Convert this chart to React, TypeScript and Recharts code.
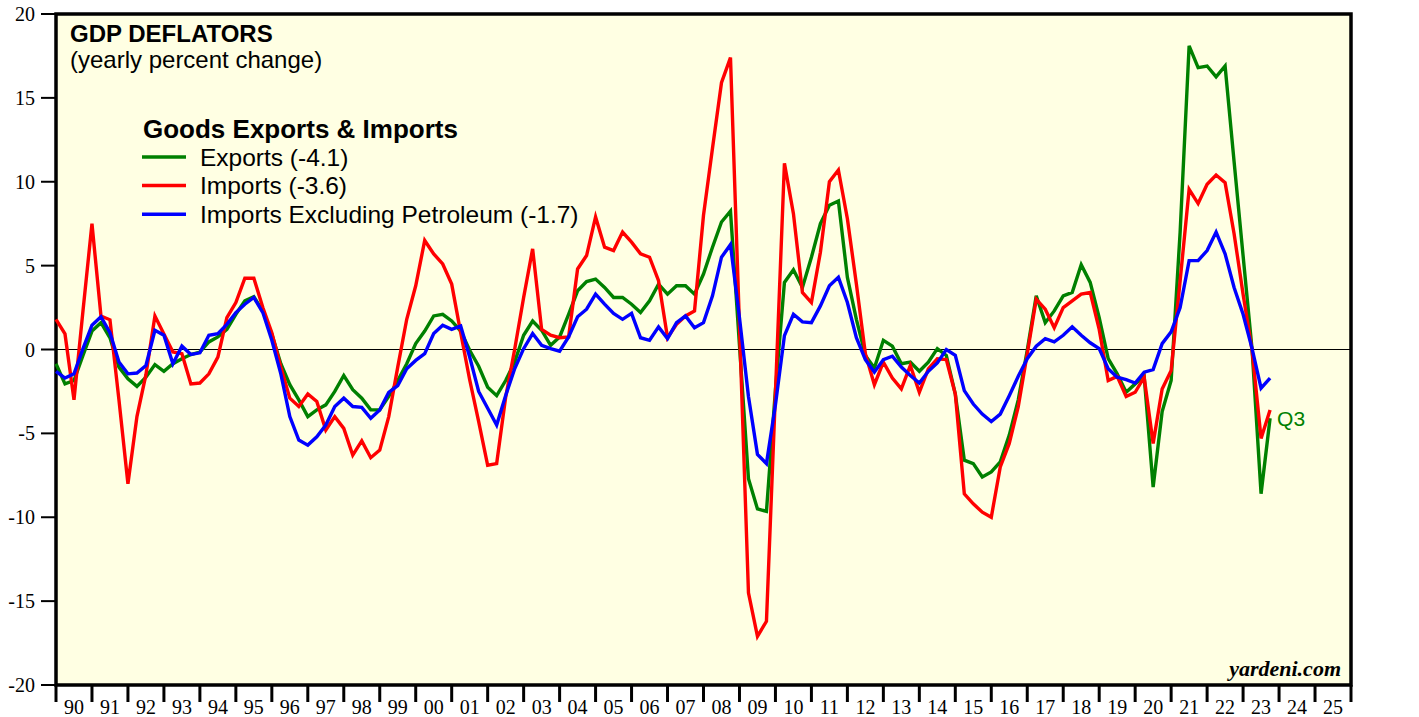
import React from "react";
import {
  CartesianGrid,
  Legend,
  Line,
  LineChart,
  ReferenceArea,
  XAxis,
  YAxis,
} from "recharts";

// quarterly series, first point is 1989 Q4 (plotted at quarter end)
const START_YEAR = 1989;
const START_QUARTER = 4;

const exportsDeflator = [
  -0.85, -2.05, -1.85, -0.35, 1.1, 1.6, 0.7, -1.05,
  -1.75, -2.2, -1.65, -0.9, -1.3, -0.85, -0.55, -0.3,
  -0.15, 0.45, 0.75, 1.2, 2.1, 2.9, 3.15, 2.3,
  0.9, -0.85, -2.1, -3.0, -4.0, -3.6, -3.3, -2.5,
  -1.55, -2.4, -2.9, -3.6, -3.6, -2.8, -1.85, -0.85,
  0.35, 1.1, 2.0, 2.1, 1.7, 1.1, -0.05, -1.0,
  -2.25, -2.75, -1.85, -0.75, 0.85, 1.7, 1.15, 0.25,
  0.75, 2.1, 3.5, 4.05, 4.2, 3.7, 3.1, 3.1,
  2.7, 2.2, 2.9, 3.9, 3.3, 3.8, 3.8, 3.3,
  4.5, 6.1, 7.6, 8.25, 0.25, -7.7, -9.5, -9.65,
  -2.4, 4.0, 4.75, 3.7, 5.5, 7.5, 8.6, 8.85,
  4.3, 1.8, -0.35, -1.1, 0.55, 0.2, -0.85, -0.75,
  -1.3, -0.75, 0.05, -0.35, -2.65, -6.6, -6.8, -7.6,
  -7.3, -6.7, -5.1, -3.0, -0.05, 3.2, 1.6, 2.3,
  3.2, 3.4, 5.05, 4.0, 1.9, -0.55, -1.45, -2.55,
  -2.05, -1.6, -8.2, -3.7, -1.85, 7.0, 18.1, 16.8,
  16.9, 16.25, 16.9, 11.2, 5.6, 0.0, -8.6, -4.1,
];

const importsDeflator = [
  1.8, 0.93, -3.0, 2.3, 7.5, 2.0, 1.77, -3.0,
  -8.0, -4.0, -1.5, 2.0, 0.93, -0.15, -0.25, -2.05,
  -2.0, -1.45, -0.45, 1.9, 2.8, 4.25, 4.25, 2.5,
  1.0, -1.05, -2.9, -3.4, -2.65, -3.1, -4.8, -4.0,
  -4.7, -6.3, -5.45, -6.45, -6.0, -4.0, -1.05, 1.8,
  3.8, 6.5, 5.7, 5.1, 3.9, 1.0, -1.8, -4.3,
  -6.9, -6.8, -2.85, 0.0, 3.1, 6.0, 1.2, 0.85,
  0.7, 0.75, 4.8, 5.6, 7.9, 6.1, 5.9, 7.0,
  6.4, 5.7, 5.5, 4.1, 0.7, 1.5, 2.0, 2.3,
  8.0, 12.0, 15.9, 17.4, 1.4, -14.5, -17.1, -16.2,
  -2.6, 11.1, 8.1, 3.4, 2.8, 5.8, 10.0, 10.7,
  7.8, 3.9, -0.25, -2.1, -0.75, -1.7, -2.35, -0.95,
  -2.55, -1.15, -0.55, -0.6, -2.65, -8.6, -9.2, -9.7,
  -10.0, -7.0, -5.6, -3.4, -0.25, 3.0, 2.4, 1.3,
  2.5, 2.9, 3.3, 3.4, 1.2, -1.85, -1.6, -2.8,
  -2.55, -1.65, -5.6, -2.35, -1.25, 4.1, 9.55, 8.7,
  9.85, 10.4, 9.95, 6.9, 3.3, -0.05, -5.3, -3.6,
];

const importsExPetroleum = [
  -1.3, -1.7, -1.45, 0.05, 1.45, 1.95, 1.0, -0.75,
  -1.45, -1.4, -0.95, 1.15, 0.85, -0.85, 0.2, -0.3,
  -0.2, 0.85, 0.95, 1.5, 2.2, 2.7, 3.1, 2.2,
  0.55, -1.45, -4.0, -5.4, -5.7, -5.2, -4.5, -3.4,
  -2.9, -3.4, -3.45, -4.1, -3.6, -2.55, -2.15, -1.15,
  -0.65, -0.25, 0.95, 1.45, 1.2, 1.4, -0.45, -2.5,
  -3.5, -4.5, -2.75, -1.15, 0.05, 0.95, 0.25, 0.05,
  -0.1, 0.75, 1.95, 2.4, 3.3, 2.7, 2.15, 1.8,
  2.15, 0.7, 0.55, 1.35, 0.65, 1.6, 2.0, 1.3,
  1.6, 3.2, 5.5, 6.25, 1.9, -2.8, -6.25, -6.8,
  -3.3, 0.83, 2.1, 1.65, 1.6, 2.6, 3.8, 4.3,
  2.8, 0.7, -0.6, -1.35, -0.6, -0.4, -1.05, -1.55,
  -2.0, -1.3, -0.8, 0.0, -0.35, -2.45, -3.25, -3.85,
  -4.3, -3.85, -2.75, -1.6, -0.55, 0.2, 0.65, 0.45,
  0.85, 1.35, 0.85, 0.4, 0.05, -1.15, -1.65, -1.8,
  -2.0, -1.35, -1.2, 0.35, 1.05, 2.5, 5.3, 5.3,
  5.9, 7.0, 5.7, 3.7, 2.1, 0.05, -2.3, -1.7,
];

const yearTicks = [
  1990, 1991, 1992, 1993, 1994, 1995, 1996, 1997, 1998, 1999, 2000, 2001,
  2002, 2003, 2004, 2005, 2006, 2007, 2008, 2009, 2010, 2011, 2012, 2013,
  2014, 2015, 2016, 2017, 2018, 2019, 2020, 2021, 2022, 2023, 2024, 2025,
  2026,
];
const yTicks = [-20, -15, -10, -5, 0, 5, 10, 15, 20];

const GREEN = "#008000";
const RED = "#FF0000";
const BLUE = "#0000FF";
const BG = "#FFFFE3";
const SANS = "'Liberation Sans', Arial, sans-serif";
const SERIF = "'Liberation Serif', 'Times New Roman', serif";

const data = exportsDeflator.map((v, i) => {
  const q = START_QUARTER - 1 + i;
  const year = START_YEAR + Math.floor(q / 4);
  const quarter = (q % 4) + 1;
  return {
    date: year + quarter / 4,
    quarter,
    exports: v,
    imports: importsDeflator[i],
    importsExPetroleum: importsExPetroleum[i],
  };
});

// year boundaries get a tick mark, mid-years get the label
const xTicks = yearTicks
  .flatMap((y, i) => (i < yearTicks.length - 1 ? [y, y + 0.5] : [y]));

const last = (arr: number[]) => arr[arr.length - 1];

const YearTick = (props: any) => {
  const { x, y, payload } = props;
  const v = payload.value;
  if (Number.isInteger(v)) {
    return <line x1={x} y1={y} x2={x} y2={y + 17} stroke="#000" strokeWidth={3} />;
  }
  return (
    <text x={x} y={y + 29} textAnchor="middle" fontFamily={SERIF} fontSize={20} fill="#000">
      {String(Math.floor(v) % 100).padStart(2, "0")}
    </text>
  );
};

const renderQuarterLabel = (props: any) => {
  const { x, y, index } = props;
  if (index !== data.length - 1) return null;
  return (
    <text x={x + 7} y={y} dy="0.36em" fill={GREEN} fontSize={21} fontFamily={SANS}>
      {`Q${data[index].quarter}`}
    </text>
  );
};

const renderLegend = (props: any) => {
  const { payload } = props;
  return (
    <svg width={480} height={120} style={{ display: "block", overflow: "visible" }}>
      <text x={5} y={30} fontFamily={SANS} fontWeight="bold" fontSize={26} fill="#000">
        Goods Exports &amp; Imports
      </text>
      {(payload || []).map((entry: any, i: number) => (
        <g key={`legend-${i}`}>
          <line
            x1={4}
            x2={48}
            y1={49 + i * 28.6}
            y2={49 + i * 28.6}
            stroke={entry.color}
            strokeWidth={3.5}
          />
          <text
            x={62}
            y={49 + i * 28.6}
            dominantBaseline="central"
            fontFamily={SANS}
            fontSize={24.5}
            fill="#000"
          >
            {entry.value}
          </text>
        </g>
      ))}
    </svg>
  );
};

const App = () => {
  return (
    <div style={{ position: "absolute", left: 0, top: 0, width: 1419, height: 717, background: "#fff" }}>
      <LineChart
        width={1419}
        height={717}
        data={data}
        margin={{ top: 14, right: 8, bottom: 0, left: 6 }}
      >
        <CartesianGrid
          fill={BG}
          vertical={false}
          horizontalValues={[0]}
          stroke="#000"
          strokeWidth={1.2}
        />
        <XAxis
          dataKey="date"
          type="number"
          domain={[1990, 2026]}
          ticks={xTicks}
          interval={0}
          tickSize={0}
          tickMargin={0}
          tickLine={false}
          axisLine={false}
          height={32}
          tick={<YearTick />}
        />
        <YAxis
          domain={[-20, 20]}
          ticks={yTicks}
          interval={0}
          width={50}
          tickSize={15}
          tickMargin={6}
          axisLine={false}
          tickLine={{ stroke: "#000", strokeWidth: 2 }}
          tick={{ fill: "#000", fontSize: 20, fontFamily: SERIF }}
        />
        <YAxis
          yAxisId="right"
          orientation="right"
          domain={[-20, 20]}
          ticks={yTicks}
          interval={0}
          width={60}
          tickSize={15}
          tickMargin={7}
          axisLine={false}
          tickLine={{ stroke: "#000", strokeWidth: 2 }}
          tick={{ fill: "#000", fontSize: 20, fontFamily: SERIF }}
        />
        <ReferenceArea
          x1={1990}
          x2={2026}
          y1={-20}
          y2={20}
          fill="none"
          stroke="#000"
          strokeWidth={3.5}
          ifOverflow="visible"
        />
        <Line
          name={`Exports (${last(exportsDeflator).toFixed(1)})`}
          dataKey="exports"
          type="linear"
          stroke={GREEN}
          strokeWidth={3.4}
          dot={false}
          isAnimationActive={false}
          label={renderQuarterLabel}
        />
        <Line
          name={`Imports (${last(importsDeflator).toFixed(1)})`}
          dataKey="imports"
          type="linear"
          stroke={RED}
          strokeWidth={3.4}
          dot={false}
          isAnimationActive={false}
        />
        <Line
          name={`Imports Excluding Petroleum (${last(importsExPetroleum).toFixed(1)})`}
          dataKey="importsExPetroleum"
          type="linear"
          stroke={BLUE}
          strokeWidth={3.4}
          dot={false}
          isAnimationActive={false}
        />
        <Legend
          layout="vertical"
          align="center"
          verticalAlign="middle"
          wrapperStyle={{ left: 138, top: 108, width: 480, height: 120 }}
          content={renderLegend}
        />
      </LineChart>
      <svg
        width={1419}
        height={717}
        style={{ position: "absolute", left: 0, top: 0, pointerEvents: "none" }}
      >
        <text x={70} y={42} fontFamily={SANS} fontWeight="bold" fontSize={24} fill="#000">
          GDP DEFLATORS
        </text>
        <text x={70} y={68} fontFamily={SANS} fontSize={24} fill="#000">
          (yearly percent change)
        </text>
        <text
          x={1341}
          y={676}
          textAnchor="end"
          fontFamily={SERIF}
          fontWeight="bold"
          fontStyle="italic"
          fontSize={22}
          fill="#000"
        >
          yardeni.com
        </text>
      </svg>
    </div>
  );
};

export default App;
